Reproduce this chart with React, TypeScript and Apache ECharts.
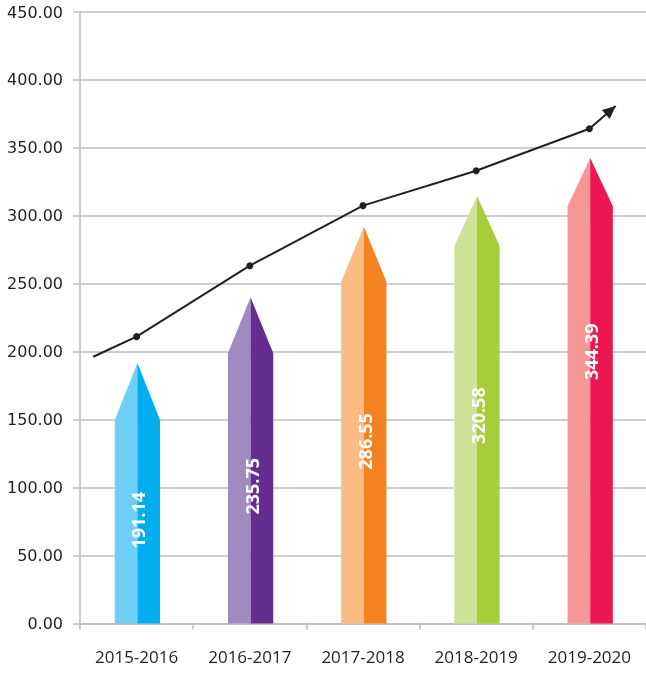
import React, { useEffect, useRef } from "react";
import * as echarts from "echarts";

const categories = ["2015-2016", "2016-2017", "2017-2018", "2018-2019", "2019-2020"];
const values = [191.14, 235.75, 286.55, 320.58, 344.39];
// arrow tip and shoulder heights
const barTips = [191.7, 240, 292, 314.6, 342.5];
const barShoulders = [149.8, 198.8, 251.5, 277.8, 307];
// vertical centre of each rotated label (in value units)
const labelCenters = [76, 101, 134, 153, 200];
const lightColors = ["#6dcff6", "#a08abf", "#fbbb85", "#d0e29a", "#f59797"];
const darkColors = ["#00aeef", "#662d91", "#f58220", "#a6ce39", "#ed1651"];

// trend line (x in category index units)
const lineX = [-0.383, 0, 1, 2, 3, 4, 4.232];
const lineY = [196.3, 211.1, 263.3, 307.5, 333.2, 364.1, 380.8];

const yTicks = { min: 0, max: 450, interval: 50 };

const GRID = "#bcbcc1";
const INK = "#231f20";

export default function App() {
  const ref = useRef<HTMLDivElement>(null);
  useEffect(() => {
    if (!ref.current) return;
    const chart = echarts.init(ref.current, null, { renderer: "svg" });
    const barData = categories.map((_, i) => [i, barTips[i], barShoulders[i], labelCenters[i], values[i]]);
    const lineData = lineX.map((x, i) => ({
      value: [x, lineY[i]],
      symbol: i === 0 || i === lineX.length - 1 ? "none" : "circle",
    }));
    const n = lineX.length;
    chart.setOption({
      animation: false,
      grid: { left: 80, top: 12, width: 569, height: 611.5, containLabel: false },
      xAxis: [
        {
          type: "category",
          data: categories,
          boundaryGap: true,
          axisLine: { show: true, onZero: false, lineStyle: { color: GRID, width: 1.5 } },
          axisTick: { show: true, length: 6, alignWithLabel: false, lineStyle: { color: GRID, width: 1.5 } },
          axisLabel: { color: INK, fontFamily: "Open Sans", fontSize: 17, margin: 24 },
          splitLine: { show: false },
        },
        { type: "value", min: -0.5, max: 4.5, show: false },
      ],
      yAxis: {
        type: "value",
        min: yTicks.min,
        max: yTicks.max,
        interval: yTicks.interval,
        axisLine: { show: true, onZero: false, lineStyle: { color: GRID, width: 1.5 } },
        axisTick: { show: true, length: 7, inside: false, lineStyle: { color: GRID, width: 1.5 } },
        axisLabel: {
          color: INK,
          fontFamily: "DejaVu Sans",
          fontSize: 16,
          margin: 17,
          formatter: (v: number) => v.toFixed(2),
        },
        splitLine: { show: true, lineStyle: { color: GRID, width: 1.5 } },
      },
      series: [
        {
          type: "custom",
          xAxisIndex: 0,
          data: barData,
          renderItem: (params: any, api: any) => {
            const i = api.value(0);
            const idx = params.dataIndex;
            const base = api.coord([i, 0]);
            const tip = api.coord([i, api.value(1)]);
            const sh = api.coord([i, api.value(2)]);
            const lab = api.coord([i, api.value(3)]);
            const w = api.size([1, 0])[0] * 0.4;
            const cx = base[0] + 0.8;
            const y0 = base[1];
            return {
              type: "group",
              children: [
                {
                  type: "polygon",
                  shape: { points: [[cx - w / 2, y0], [cx - w / 2, sh[1]], [cx, tip[1]], [cx, y0]] },
                  style: { fill: lightColors[idx] },
                },
                {
                  type: "polygon",
                  shape: { points: [[cx, y0], [cx, tip[1]], [cx + w / 2, sh[1]], [cx + w / 2, y0]] },
                  style: { fill: darkColors[idx] },
                },
                {
                  type: "text",
                  x: cx + 1,
                  y: lab[1],
                  rotation: Math.PI / 2,
                  style: {
                    text: values[idx].toFixed(2),
                    fill: "#ffffff",
                    fontFamily: "Open Sans",
                    fontWeight: "bold",
                    fontSize: 18,
                    align: "center",
                    verticalAlign: "middle",
                  },
                },
              ],
            };
          },
          z: 2,
        },
        {
          type: "line",
          xAxisIndex: 1,
          data: lineData,
          symbolSize: 7,
          itemStyle: { color: INK },
          lineStyle: { color: INK, width: 2 },
          z: 3,
        },
        {
          type: "custom",
          xAxisIndex: 1,
          data: [[lineX[n - 2], lineY[n - 2], lineX[n - 1], lineY[n - 1]]],
          renderItem: (params: any, api: any) => {
            const p1 = api.coord([api.value(0), api.value(1)]);
            const p2 = api.coord([api.value(2), api.value(3)]);
            const dx = p2[0] - p1[0];
            const dy = p2[1] - p1[1];
            const len = Math.sqrt(dx * dx + dy * dy);
            const ux = dx / len;
            const uy = dy / len;
            const L = 13;
            const W = 6;
            const bx = p2[0] - ux * L;
            const by = p2[1] - uy * L;
            return {
              type: "polygon",
              shape: {
                points: [
                  [p2[0], p2[1]],
                  [bx - uy * W, by + ux * W],
                  [bx + uy * W, by - ux * W],
                ],
              },
              style: { fill: INK },
            };
          },
          z: 4,
        },
      ],
    });
    return () => chart.dispose();
  }, []);
  return <div ref={ref} style={{ position: "fixed", left: 0, top: 0, width: "646px", height: "673px" }} />;
}
